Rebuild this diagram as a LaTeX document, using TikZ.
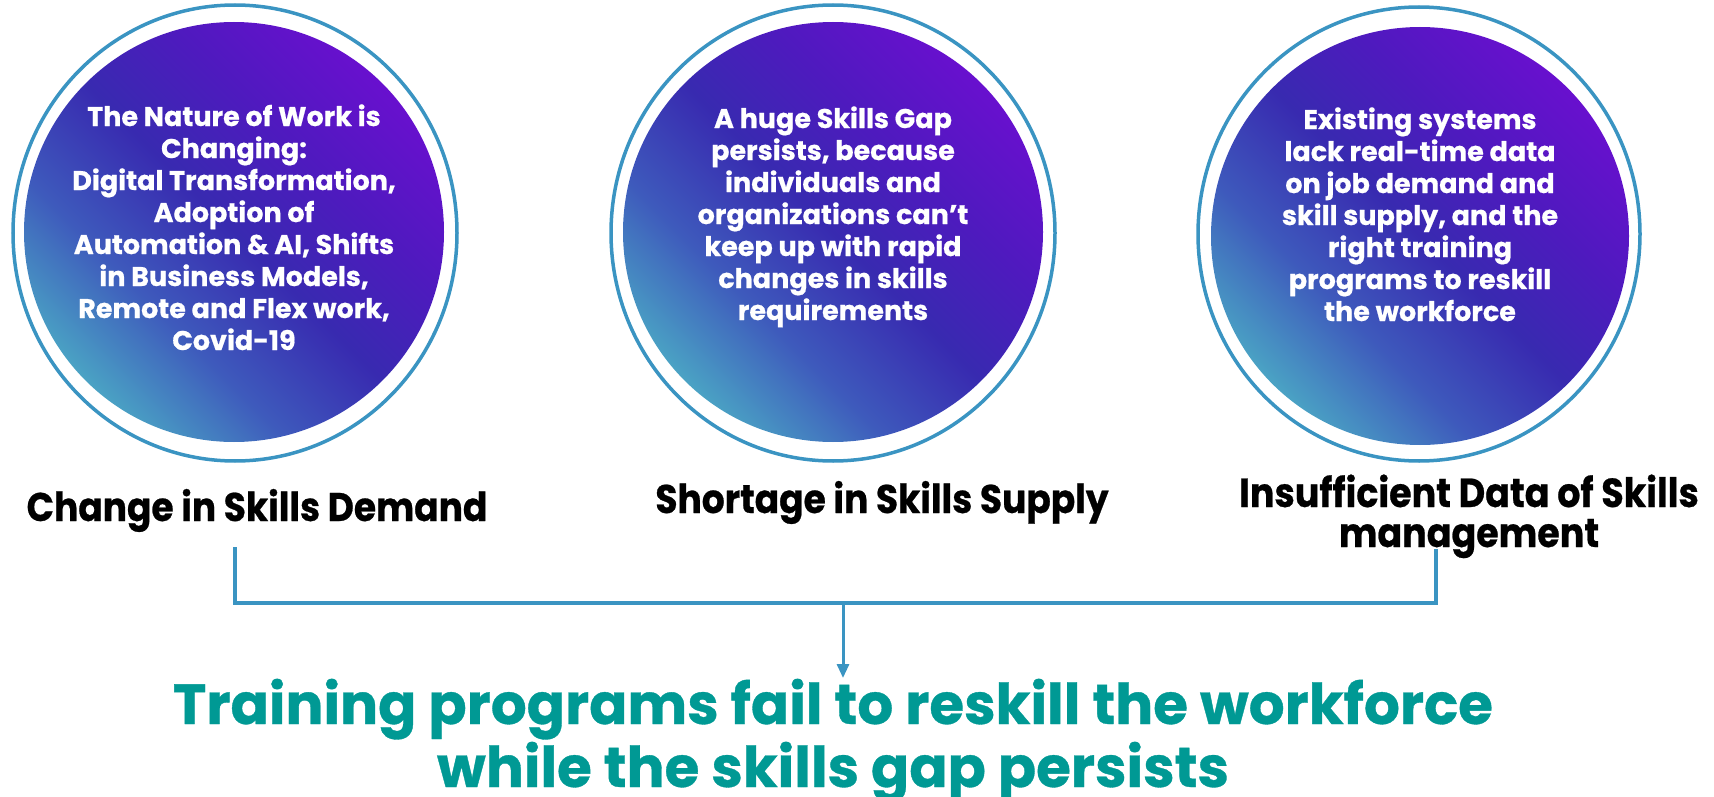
\documentclass[tikz,border=0pt]{standalone}
\usepackage{fontspec}
\setmainfont{Poppins}[FakeBold=0.6]
\newfontfamily\narrowfont{Poppins}[FakeStretch=0.9,FakeBold=0.6]
\usetikzlibrary{arrows.meta}
\definecolor{ringc}{RGB}{58,148,194}
\definecolor{tealg}{RGB}{74,162,196}
\definecolor{midg}{RGB}{62,90,188}
\definecolor{darkg}{RGB}{56,42,176}
\definecolor{violg}{RGB}{78,26,190}
\definecolor{purpg}{RGB}{104,16,206}
\definecolor{titlec}{RGB}{0,153,148}
\pgfdeclarehorizontalshading{skillshade}{100bp}{color(0bp)=(tealg); color(25bp)=(tealg); color(37bp)=(midg); color(50bp)=(darkg); color(62bp)=(violg); color(75bp)=(purpg); color(100bp)=(purpg)}
\tikzset{
  ring/.style={draw=ringc, line width=3.5pt},
  disc/.style={shading=skillshade, shading angle=45},
  disctext/.style={text=white, font=\fontsize{27}{32}\selectfont\bfseries, align=center, inner sep=0pt, anchor=base},
  lab/.style={font=\narrowfont\fontsize{40}{48}\selectfont\bfseries, inner sep=0pt, align=center, anchor=base},
  conn/.style={draw=ringc, line width=3.5pt},
  downarrow/.style={draw=ringc, fill=ringc, line width=3pt, -{Triangle[length=14pt,width=12pt]}},
  titletext/.style={text=titlec, font=\fontsize{56.4}{63}\selectfont\bfseries, inner sep=0pt, align=center, anchor=base}
}
\begin{document}
\begin{tikzpicture}[x=1pt,y=-1pt]
\useasboundingbox (0,0) rectangle (1714,797);
% circles
\draw[ring] (235,233) ellipse [x radius=222, y radius=228];
\shade[disc] (234,232) circle [radius=210];
\draw[ring] (833,233) ellipse [x radius=222, y radius=228];
\shade[disc] (833,232) circle [radius=210];
\draw[ring] (1419,234) ellipse [x radius=221, y radius=227];
\shade[disc] (1420,236) circle [radius=209];
% circle texts (base anchor = last line)
\node[disctext] (t1) at (234,350) {The Nature of Work is\\Changing:\\Digital Transformation,\\Adoption of\\Automation \& AI, Shifts\\in Business Models,\\Remote and Flex work,\\Covid-19};
\node[disctext] (t2) at (833,320) {A huge Skills Gap\\persists, because\\individuals and\\organizations can’t\\keep up with rapid\\changes in skills\\requirements};
\node[disctext] (t3) at (1420,321) {Existing systems\\lack real-time data\\on job demand and\\skill supply, and the\\right training\\programs to reskill\\the workforce};
% labels
\node[lab] (l1) at (257,521) {Change in Skills Demand};
\node[lab] (l2) at (882,513) {Shortage in Skills Supply};
\node[lab, font=\narrowfont\fontsize{40.5}{40}\selectfont\bfseries] (l3) at (1469,547) {Insufficient Data of Skills\\management};
% connectors
\coordinate (a1) at (235,547);
\coordinate (a3) at (1436,549);
\coordinate (j1) at (235,603);
\coordinate (j3) at (1436,603);
\coordinate (m) at (843,605);
\coordinate (tip) at (843,678);
\draw[conn] (a1) -- (j1) -- (j3) -- (a3);
\draw[downarrow] (m) -- (tip);
% title
\node[titletext] (title) at (833,787) {Training programs fail to reskill the workforce\\while the skills gap persists};
\end{tikzpicture}
\end{document}
